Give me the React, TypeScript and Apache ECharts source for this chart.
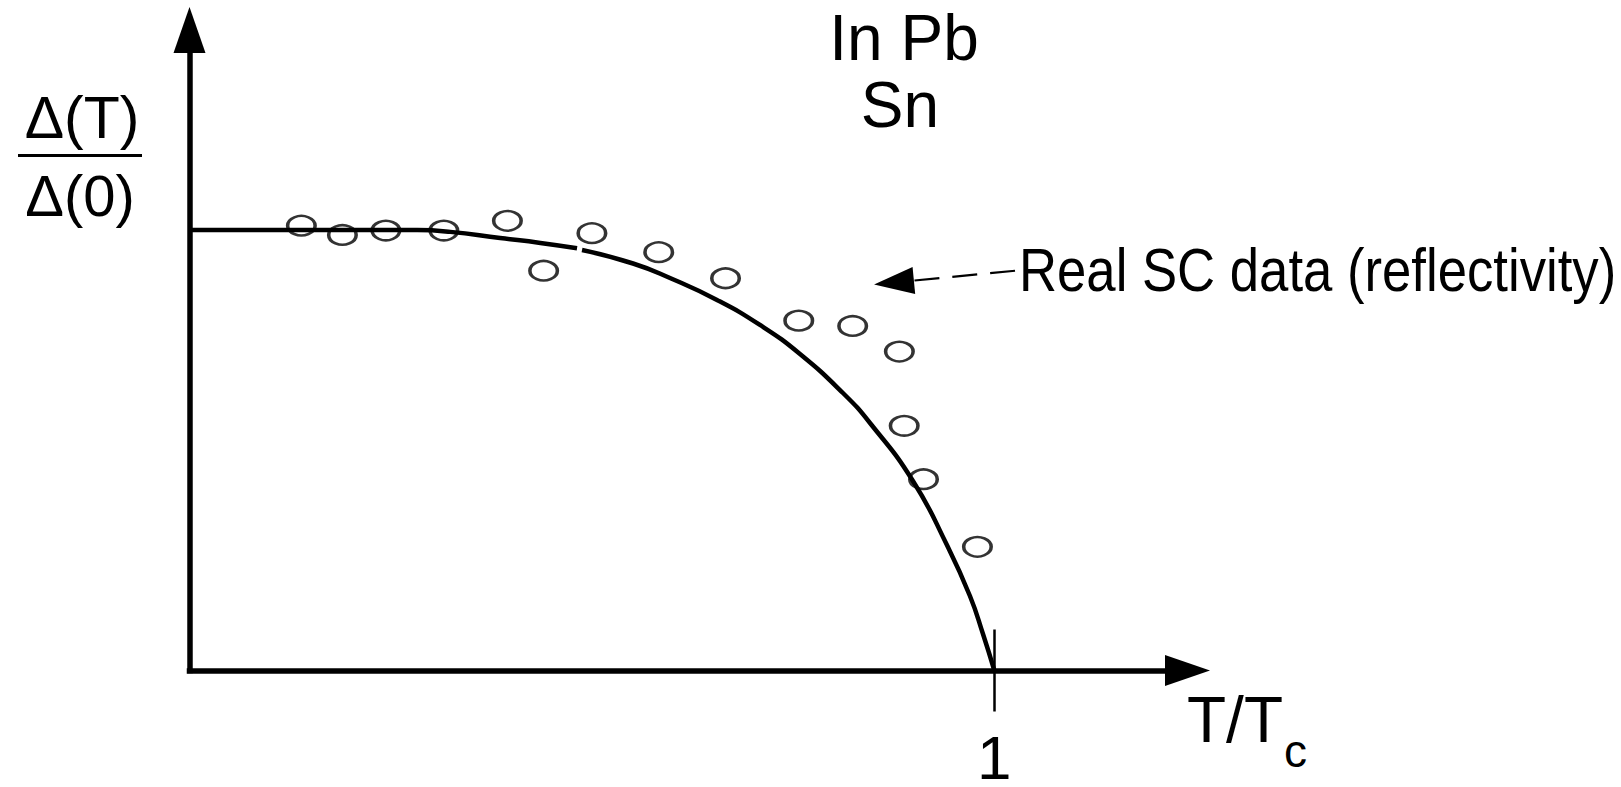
import React, { useEffect, useRef } from "react";
import * as echarts from "echarts";

// BCS-like gap curve, drawn as two pieces with a small break between them
const curveLeft: [number, number][] = [
  [0, 0.997], [0.137, 0.997], [0.283, 0.997], [0.324, 0.993],
  [0.386, 0.979], [0.436, 0.968], [0.4815, 0.956],
];
const curveRight: [number, number][] = [
  [0.4877, 0.952], [0.5511, 0.9214], [0.597, 0.8885], [0.6554, 0.8388],
  [0.7088, 0.7822], [0.7585, 0.7165], [0.8119, 0.6282], [0.8455, 0.5603],
  [0.8989, 0.429], [0.9411, 0.2841], [0.9697, 0.1687], [0.9859, 0.0826],
  [1.0, 0],
];

// Measured reflectivity points for In, Pb, Sn
const scData: [number, number][] = [
  [0.139, 1.007], [0.19, 0.986], [0.244, 0.996], [0.316, 0.996],
  [0.395, 1.018], [0.44, 0.905], [0.5, 0.99], [0.583, 0.947],
  [0.666, 0.888], [0.757, 0.792], [0.824, 0.78], [0.882, 0.722],
  [0.888, 0.554], [0.912, 0.433], [0.979, 0.28],
];

// Pointer from the caption to the data points (start at caption, end at arrow head)
const pointerFrom: [number, number] = [1.0257, 0.905];
const pointerTo: [number, number] = [0.8753, 0.8784];

const xTickValues = [1];
const xTickLabels = ["1"];

const FONT = '"Liberation Sans", Arial, Helvetica, sans-serif';

export default function App() {
  const ref = useRef<HTMLDivElement>(null);

  useEffect(() => {
    if (!ref.current) return;
    const chart = echarts.init(ref.current, null, { renderer: "svg" });

    const text = (
      str: string,
      x: number,
      y: number,
      size: number,
      align: string,
      extra: any = {}
    ) => ({
      type: "text",
      x,
      y,
      silent: true,
      ...extra,
      style: {
        text: str,
        fontSize: size,
        fontFamily: FONT,
        fill: "#000",
        textAlign: align,
        align,
        textVerticalAlign: "middle",
        verticalAlign: "middle",
      },
    });

    const curveStyle = { color: "#000", width: 4.5 };

    chart.setOption({
      animation: false,
      backgroundColor: "#fff",
      grid: {
        left: 189.5,
        right: 433.5,
        top: 30,
        bottom: 116.5,
        containLabel: false,
        outerBoundsMode: "none",
      },
      xAxis: [
        {
          type: "value",
          min: 0,
          max: 1.24,
          splitLine: { show: false },
          axisLine: {
            show: true,
            symbol: ["none", "triangle"],
            symbolSize: [31, 45],
            lineStyle: { color: "#000", width: 5.5, cap: "square" },
          },
          axisTick: {
            show: true,
            inside: false,
            length: 41,
            customValues: xTickValues,
            lineStyle: { color: "#000", width: 2.5 },
          },
          axisLabel: {
            show: true,
            customValues: xTickValues,
            formatter: (v: number) => xTickLabels[xTickValues.indexOf(v)] ?? "",
            margin: 62,
            fontSize: 62,
            lineHeight: 50,
            fontFamily: FONT,
            color: "#000",
          },
        },
        {
          // upper half of the tick at T = Tc
          type: "value",
          min: 0,
          max: 1.24,
          position: "bottom",
          splitLine: { show: false },
          axisLine: { show: false },
          axisTick: {
            show: true,
            inside: true,
            length: 41,
            customValues: xTickValues,
            lineStyle: { color: "#000", width: 2.5 },
          },
          axisLabel: { show: false },
        },
      ],
      yAxis: {
        type: "value",
        min: 0,
        max: 1.45,
        splitLine: { show: false },
        axisTick: { show: false },
        axisLabel: { show: false },
        axisLine: {
          show: true,
          symbol: ["none", "triangle"],
          symbolSize: [32, 46],
          lineStyle: { color: "#000", width: 5.5, cap: "square" },
        },
      },
      series: [
        {
          type: "line",
          data: curveLeft,
          smooth: 0.5,
          showSymbol: false,
          silent: true,
          lineStyle: curveStyle,
        },
        {
          type: "line",
          data: curveRight,
          smooth: 0.5,
          showSymbol: false,
          silent: true,
          lineStyle: curveStyle,
        },
        {
          type: "scatter",
          data: scData,
          symbol: "circle",
          symbolSize: [27.5, 19.5],
          silent: true,
          z: 3,
          itemStyle: {
            color: "rgba(0,0,0,0)",
            borderColor: "#000",
            borderWidth: 3,
          },
          markLine: {
            silent: true,
            animation: false,
            label: { show: false },
            symbol: ["none", "triangle"],
            lineStyle: { color: "#000", width: 2.2, type: [25, 13] },
            data: [
              [
                { coord: pointerFrom, symbol: "none" },
                { coord: pointerTo, symbol: "triangle", symbolSize: [27, 40] },
              ],
            ],
          },
        },
      ],
      graphic: [
        text("In Pb", 904, 38, 64, "center"),
        text("Sn", 900, 105, 64, "center"),
        text("\u0394(T)", 82, 117.5, 59, "center"),
        {
          type: "line",
          silent: true,
          shape: { x1: 18, y1: 155.5, x2: 142, y2: 155.5 },
          style: { stroke: "#000", lineWidth: 3 },
        },
        text("\u0394(0)", 80, 195, 58, "center"),
        text("Real SC data (reflectivity)", 1019, 269.5, 62, "left", {
          scaleX: 0.85,
        }),
        text("T/T", 1187, 720, 64, "left"),
        text("c", 1284, 751, 46, "left"),
      ],
    });

    return () => chart.dispose();
  }, []);

  return (
    <div
      ref={ref}
      style={{ position: "absolute", left: 0, top: 0, width: 1621, height: 787 }}
    />
  );
}
